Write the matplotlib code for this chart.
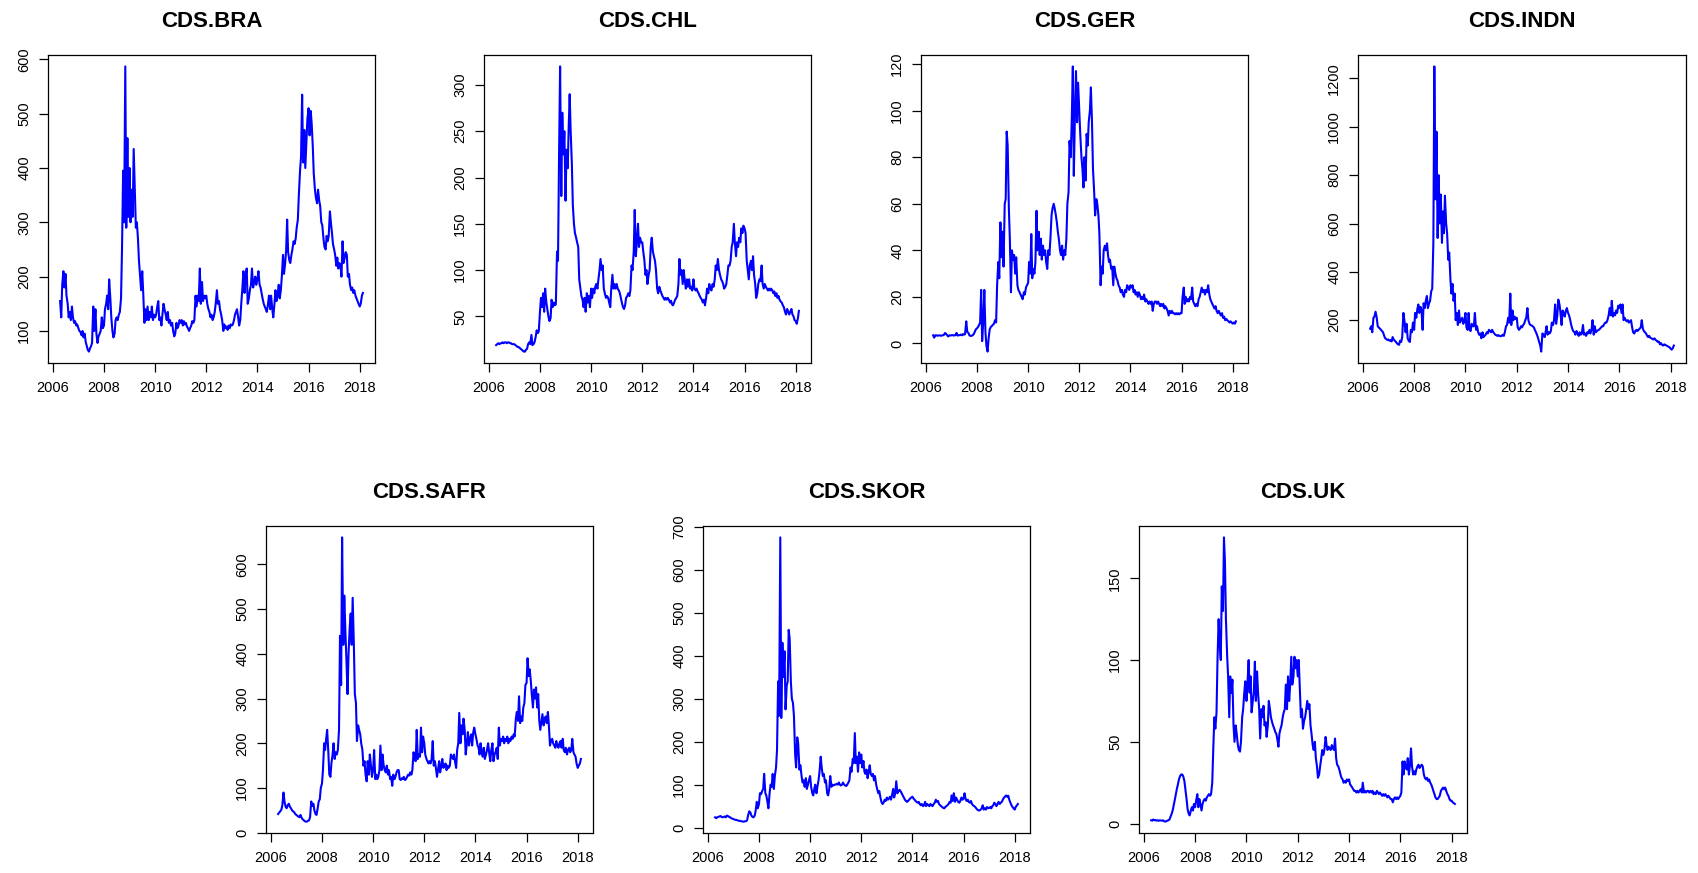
import numpy as np
import pandas as pd
import matplotlib
matplotlib.use("Agg")
import matplotlib.pyplot as plt

# semi-monthly observation dates (1st and 15th), Apr 2006 - Feb 2018
dates = pd.date_range("2006-04-15", "2018-02-15", freq="SMS")
t = dates.year + (dates.dayofyear - 1) / (365 + dates.is_leap_year.astype(int))

cds_bra = [
    155, 125, 185, 210, 180, 205, 165, 150, 125, 135, 120, 145, 125, 115, 118, 110, 112,
    105, 100, 98, 92, 100, 88, 95, 80, 72, 65, 62, 68, 72, 78, 145, 100, 140, 95, 78, 90, 95, 100, 125, 105,
    110, 140, 150, 165, 140, 195, 160, 125, 100, 88, 95, 120, 125, 120, 130, 135, 160, 250, 395, 300, 587, 290, 455, 310,
    400, 300, 360, 310, 435, 370, 290, 300, 270, 230, 200, 175, 210, 170, 115, 140, 120, 145, 120, 135, 125, 145, 120, 130,
    125, 130, 145, 155, 120, 125, 110, 130, 150, 140, 130, 120, 135, 115, 120, 110, 115, 100, 90, 95, 115, 105, 110, 120,
    115, 120, 110, 118, 112, 115, 108, 105, 100, 105, 110, 118, 115, 120, 165, 145, 165, 155, 215, 150, 190, 155, 165, 160,
    165, 150, 140, 135, 125, 130, 120, 125, 135, 150, 175, 150, 155, 140, 130, 120, 100, 112, 105, 108, 102, 110, 105, 112,
    110, 112, 120, 130, 135, 140, 125, 110, 120, 150, 180, 210, 170, 200, 215, 150, 160, 175, 185, 215, 180, 190, 200, 185,
    195, 210, 185, 180, 170, 160, 150, 145, 140, 135, 150, 165, 140, 165, 140, 125, 150, 175, 155, 165, 185, 160, 175, 200,
    240, 205, 225, 250, 305, 245, 230, 225, 240, 250, 265, 260, 270, 290, 305, 350, 395, 420, 535, 410, 470, 400, 450, 490,
    510, 460, 505, 480, 440, 390, 360, 345, 335, 360, 340, 330, 300, 295, 270, 255, 250, 275, 265, 275, 320, 300, 280, 260,
    250, 240, 220, 235, 215, 225, 220, 200, 265, 225, 235, 245, 240, 200, 205, 185, 175, 180, 170, 175, 165, 160, 155, 150,
    145, 150, 165, 170,
]

cds_chl = [
    19, 20, 21, 20, 21, 21, 22, 21, 22, 22, 21, 22, 22, 21, 21, 20, 20,
    20, 19, 18, 17, 17, 16, 15, 14, 13, 12, 12, 14, 15, 20, 22, 20, 30, 19, 20, 22, 28, 35, 32, 34,
    55, 70, 60, 75, 55, 80, 65, 58, 50, 45, 48, 68, 60, 65, 62, 63, 120, 110, 230, 320, 180, 270, 225, 250,
    175, 230, 210, 255, 290, 250, 215, 170, 150, 140, 135, 130, 125, 90, 80, 72, 68, 60, 70, 55, 75, 65, 72, 60,
    80, 70, 80, 75, 82, 85, 80, 90, 100, 112, 100, 105, 80, 75, 70, 72, 70, 65, 60, 80, 95, 80, 85, 80,
    85, 80, 78, 75, 70, 65, 60, 58, 62, 70, 72, 75, 72, 78, 105, 100, 120, 165, 115, 130, 150, 125, 135, 130,
    130, 120, 110, 95, 100, 85, 95, 100, 125, 135, 120, 115, 110, 100, 80, 75, 82, 78, 75, 72, 70, 68, 70, 68,
    70, 68, 65, 67, 63, 62, 65, 68, 70, 72, 85, 112, 95, 100, 85, 100, 88, 80, 90, 82, 90, 80, 82, 78,
    90, 80, 78, 80, 77, 75, 72, 70, 68, 65, 68, 62, 70, 80, 75, 85, 80, 78, 85, 82, 90, 105, 100, 112,
    100, 95, 90, 88, 85, 80, 82, 85, 95, 105, 105, 110, 125, 130, 150, 130, 115, 130, 125, 135, 130, 145, 140, 148,
    145, 140, 110, 100, 90, 105, 110, 100, 115, 95, 85, 70, 75, 85, 90, 88, 105, 85, 80, 85, 82, 80, 78, 80,
    78, 80, 78, 75, 77, 72, 75, 70, 72, 68, 66, 65, 62, 60, 55, 52, 58, 55, 52, 55, 58, 52, 50, 46,
    45, 42, 48, 56,
]

cds_ger = [
    3.5, 2.5, 3.5, 3.5, 3.3, 3.4, 3.5, 3.3, 3.4, 3.5, 3.6, 4.5, 4.2, 3.5, 3.0, 3.5, 3.4,
    3.5, 3.6, 3.4, 3.5, 3.5, 4.5, 3.4, 3.5, 3.6, 3.8, 3.5, 4.0, 3.8, 4.0, 9.5, 5.0, 4.5, 3.5, 3.2, 3.3, 3.5, 4.0, 5.0, 6.0,
    6.5, 7, 8, 9, 23, 1, 10, 23, 5, -1, -3.5, 2, 6, 7, 7.5, 8, 8.5, 10, 9, 25, 35, 28, 52, 37,
    48, 33, 60, 62, 91, 85, 58, 45, 22, 40, 36, 38, 30, 37, 25, 23, 22, 21, 20, 19, 22, 21, 24, 25,
    26, 35, 30, 47, 28, 32, 30, 35, 57, 40, 48, 38, 45, 36, 42, 38, 40, 35, 32, 40, 38, 45, 55, 58,
    60, 58, 55, 52, 48, 45, 40, 38, 42, 36, 40, 38, 45, 60, 65, 87, 80, 95, 119, 72, 100, 117, 95, 112,
    100, 90, 80, 75, 67, 80, 70, 90, 85, 95, 100, 110, 95, 75, 65, 55, 62, 60, 55, 47, 25, 33, 30, 40,
    42, 40, 43, 38, 35, 36, 32, 33, 25, 33, 30, 28, 27, 25, 24, 22, 23, 21, 20, 23, 22, 25, 24, 23,
    25, 24, 25, 22, 23, 21, 22, 20, 22, 21, 19, 20, 19, 21, 18, 19, 18, 17, 18, 17, 18, 14, 17, 18,
    18, 17, 18, 17, 16, 17, 16, 17, 15, 16, 15, 14, 12, 14, 13, 14, 13, 13, 12.5, 13, 12.5, 13, 12.5, 13,
    13, 20, 24, 17, 20, 18, 19, 18, 20, 19, 24, 18, 17, 16, 17, 16, 19, 20, 22, 24, 22, 23, 21, 23,
    22, 25, 21, 19, 18, 17, 16, 15, 16, 14, 13, 14, 13, 12, 13, 11, 11.5, 10, 10.5, 10, 9.5, 9, 9.5, 9,
    8.5, 9, 8.5, 9.5,
]

cds_indn = [
    165, 175, 150, 210, 215, 235, 215, 175, 170, 165, 160, 155, 150, 135, 125, 122, 118,
    120, 115, 118, 112, 130, 120, 115, 110, 105, 100, 98, 115, 110, 130, 230, 200, 150, 185, 125, 115, 110, 160, 150, 190,
    160, 230, 210, 245, 265, 230, 255, 240, 160, 270, 250, 280, 300, 250, 270, 280, 320, 330, 520, 1250, 700, 980, 540, 800,
    600, 720, 520, 650, 560, 715, 600, 560, 450, 480, 370, 310, 350, 280, 310, 200, 230, 180, 240, 190, 200, 210, 185, 195,
    230, 170, 160, 230, 160, 155, 185, 175, 175, 230, 160, 175, 150, 140, 145, 125, 150, 130, 135, 140, 150, 145, 160, 155,
    150, 160, 150, 145, 140, 138, 135, 138, 135, 133, 135, 140, 135, 150, 175, 180, 210, 190, 310, 180, 240, 200, 215, 205,
    210, 170, 160, 165, 175, 170, 180, 185, 200, 210, 250, 200, 185, 180, 178, 175, 170, 160, 150, 140, 125, 110, 95, 70,
    145, 140, 130, 150, 175, 140, 150, 145, 155, 190, 180, 200, 265, 185, 220, 285, 265, 230, 180, 240, 230, 215, 240, 250,
    230, 220, 200, 180, 165, 155, 150, 140, 155, 145, 135, 150, 140, 145, 180, 140, 145, 135, 150, 145, 160, 145, 160, 200,
    140, 175, 150, 155, 158, 160, 165, 170, 175, 175, 185, 190, 190, 200, 220, 250, 220, 280, 215, 230, 220, 240, 230, 260,
    250, 265, 230, 265, 200, 210, 200, 195, 200, 190, 195, 200, 170, 150, 145, 155, 160, 155, 160, 165, 170, 200, 165, 155,
    150, 145, 135, 130, 135, 128, 125, 122, 120, 125, 118, 115, 110, 112, 100, 105, 98, 95, 100, 98, 95, 92, 90, 88,
    82, 78, 85, 95,
]

cds_safr = [
    42, 45, 48, 52, 62, 90, 70, 58, 55, 62, 65, 58, 55, 50, 48, 46, 42,
    40, 38, 36, 35, 40, 34, 30, 28, 26, 25, 25, 27, 28, 35, 70, 60, 65, 50, 42, 40, 55, 70, 75, 100,
    110, 140, 200, 185, 210, 230, 180, 130, 125, 155, 175, 200, 165, 180, 175, 185, 230, 440, 330, 660, 420, 530, 450, 390,
    310, 400, 460, 490, 420, 525, 420, 310, 290, 205, 240, 230, 220, 200, 185, 150, 160, 130, 115, 160, 130, 175, 150, 125,
    140, 185, 120, 130, 120, 125, 140, 195, 140, 175, 150, 140, 135, 150, 130, 140, 120, 125, 105, 130, 120, 125, 135, 140,
    140, 120, 118, 122, 120, 125, 118, 120, 125, 130, 128, 135, 130, 140, 180, 165, 160, 230, 165, 175, 170, 235, 180, 215,
    200, 175, 165, 160, 155, 160, 155, 165, 205, 150, 160, 145, 125, 140, 160, 135, 150, 165, 145, 150, 155, 140, 150, 145,
    150, 175, 170, 165, 175, 160, 145, 185, 200, 268, 200, 240, 220, 255, 230, 175, 200, 225, 195, 210, 220, 195, 225, 235,
    220, 210, 195, 190, 175, 200, 180, 170, 190, 165, 175, 185, 200, 180, 160, 185, 200, 160, 175, 180, 190, 165, 235, 195,
    210, 205, 215, 200, 210, 205, 215, 200, 210, 205, 215, 210, 220, 215, 255, 270, 250, 305, 245, 260, 250, 280, 290, 330,
    335, 390, 350, 365, 340, 310, 280, 320, 300, 325, 280, 310, 250, 230, 250, 265, 240, 255, 260, 245, 270, 240, 195, 205,
    210, 200, 195, 190, 205, 195, 190, 200, 205, 190, 210, 185, 180, 190, 175, 185, 190, 180, 185, 210, 180, 175, 170, 155,
    145, 150, 155, 165,
]

cds_skor = [
    24, 22, 24, 25, 26, 27, 25, 24, 25, 26, 24, 28, 27, 25, 24, 22, 21,
    20, 19, 18, 18, 17, 16, 16, 15, 15, 14, 14, 15, 15, 17, 30, 38, 35, 28, 25, 24, 28, 40, 60, 45,
    55, 80, 78, 85, 90, 125, 80, 75, 60, 45, 80, 100, 95, 125, 90, 120, 140, 180, 340, 260, 675, 255, 430, 350,
    410, 275, 330, 340, 460, 440, 340, 300, 290, 260, 170, 140, 210, 195, 135, 145, 120, 105, 110, 95, 115, 90, 100, 110,
    120, 95, 80, 75, 90, 100, 80, 95, 110, 130, 165, 140, 120, 125, 105, 110, 80, 75, 90, 120, 95, 100, 98, 100,
    100, 102, 100, 105, 100, 98, 100, 105, 100, 98, 97, 100, 105, 110, 140, 130, 160, 150, 220, 150, 165, 130, 175, 150,
    170, 140, 155, 130, 125, 135, 115, 130, 145, 125, 120, 125, 110, 120, 100, 90, 80, 85, 70, 60, 55, 58, 65, 62,
    70, 65, 68, 72, 65, 75, 90, 70, 80, 108, 80, 85, 88, 85, 80, 75, 70, 65, 62, 60, 62, 65, 68, 70,
    72, 68, 65, 62, 60, 58, 60, 55, 52, 55, 50, 52, 60, 50, 55, 52, 50, 55, 52, 50, 55, 58, 65, 60,
    62, 55, 52, 50, 48, 46, 45, 48, 50, 52, 55, 60, 58, 75, 62, 80, 60, 70, 65, 60, 58, 62, 70, 65,
    68, 80, 65, 62, 65, 60, 58, 62, 55, 52, 50, 48, 45, 42, 40, 40, 42, 45, 52, 42, 45, 42, 48, 45,
    46, 48, 45, 50, 52, 58, 55, 50, 55, 60, 55, 58, 60, 65, 70, 72, 75, 72, 74, 65, 58, 52, 48, 45,
    42, 48, 52, 55,
]

cds_uk = [
    2, 1.8, 2.5, 2, 2.2, 1.8, 2, 1.7, 2, 1.9, 1.8, 2, 1.5, 1.2, 1.5, 1.8, 2,
    2.5, 4, 6, 8, 11, 14, 18, 21, 24, 27, 29, 30, 30, 29, 26, 21, 15, 9, 6, 5, 8, 10, 8, 12,
    10, 14, 18, 10, 15, 12, 8, 12, 14, 15, 14, 16, 17, 18, 17, 18, 25, 45, 65, 58, 68, 100, 125, 110,
    100, 145, 130, 175, 160, 125, 103, 90, 65, 90, 80, 88, 60, 50, 60, 55, 48, 45, 44, 50, 65, 70, 80, 87,
    75, 85, 100, 80, 90, 68, 75, 80, 99, 75, 93, 80, 70, 52, 70, 65, 72, 60, 62, 53, 60, 75, 70, 65,
    62, 60, 58, 56, 55, 52, 47, 55, 58, 60, 65, 68, 70, 85, 70, 90, 75, 85, 102, 85, 90, 102, 95, 100,
    90, 100, 80, 65, 70, 58, 63, 65, 70, 75, 70, 73, 60, 55, 48, 45, 50, 40, 35, 28, 30, 35, 40, 45,
    42, 45, 53, 48, 45, 47, 46, 45, 48, 46, 45, 52, 40, 36, 35, 33, 30, 28, 27, 25, 26, 25, 27, 26,
    27, 24, 23, 22, 21, 20, 20, 19, 20, 19, 20, 21, 19, 25, 19, 20, 19, 20, 20, 19, 20, 19, 20, 18,
    19, 18, 20, 19, 18, 19, 18, 17, 18, 17, 18, 17, 16, 17, 16, 15, 15, 13, 15, 16, 15, 16, 15, 16,
    17, 19, 38, 30, 38, 35, 33, 40, 30, 35, 46, 35, 30, 32, 30, 33, 35, 36, 34, 35, 36, 35, 30, 28,
    27, 28, 26, 27, 25, 24, 22, 20, 18, 16, 15, 15, 16, 17, 20, 21, 22, 21, 22, 20, 18, 17, 15, 14,
    14, 13, 12.5, 12,
]

titles = ["CDS.BRA", "CDS.CHL", "CDS.GER", "CDS.INDN", "CDS.SAFR", "CDS.SKOR", "CDS.UK"]
series = [cds_bra, cds_chl, cds_ger, cds_indn, cds_safr, cds_skor, cds_uk]
xticks = [2006, 2008, 2010, 2012, 2014, 2016, 2018]
yticks = [
    [100, 200, 300, 400, 500, 600],
    [50, 100, 150, 200, 250, 300],
    [0, 20, 40, 60, 80, 100, 120],
    [200, 400, 600, 800, 1000, 1200],
    [0, 100, 200, 300, 400, 500, 600],
    [0, 100, 200, 300, 400, 500, 600, 700],
    [0, 50, 100, 150],
]

W, H = 1698, 873
# axes boxes in pixels: (left, top, right, bottom)
boxes = [
    (48, 55, 375, 363), (484, 55, 811, 363), (921, 55, 1248, 363), (1358, 55, 1686, 363),
    (266, 526, 593, 833), (703, 526, 1030, 833), (1139, 526, 1467, 833),
]

plt.rcParams["font.family"] = ["Liberation Sans", "DejaVu Sans"]
fig = plt.figure(figsize=(W / 100, H / 100), dpi=100)

for title, y, yt, (l, tp, r, b) in zip(titles, series, yticks, boxes):
    assert len(y) == len(t), (title, len(y), len(t))
    ax = fig.add_axes([l / W, 1 - b / H, (r - l) / W, (b - tp) / H])
    ax.plot(t, y, color="#0000FF", lw=1.5)
    ax.margins(x=0.04, y=0.04)
    ax.set_xticks(xticks)
    ax.set_yticks(yt)
    ax.set_yticklabels([str(v) for v in yt], rotation=90, va="center")
    ax.tick_params(direction="out", length=6.5, width=0.9, labelsize=10.5, colors="black")
    ax.tick_params(axis="x", pad=6.5)
    ax.tick_params(axis="y", pad=5.5)
    for s in ax.spines.values():
        s.set_linewidth(0.9)
        s.set_color("black")
    ax.set_title(title, fontsize=16, fontweight="bold", pad=20)

fig.savefig("out.png", dpi=100)
